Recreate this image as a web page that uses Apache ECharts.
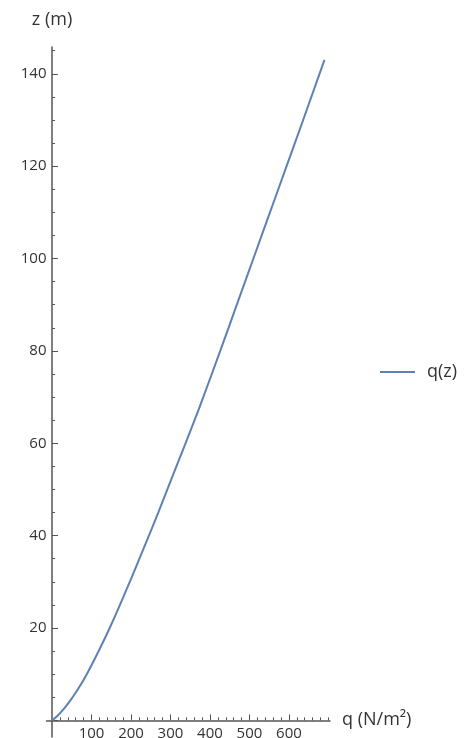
<!DOCTYPE html>
<html>
<head>
<meta charset="utf-8">
<script src="https://cdn.jsdelivr.net/npm/echarts@6/dist/echarts.min.js"></script>
<style>
  html, body { margin: 0; padding: 0; background: #fff; }
  #chart { width: 468px; height: 738px; }
</style>
</head>
<body>
<div id="chart"></div>
<script>
// Height above ground (m) and the matching wind pressure q (N/m²)
const zValues = [0, 1, 2.5, 5, 7.5, 10, 15, 20, 26, 30, 37, 45, 55, 65, 70, 80, 90, 100, 110, 120, 130, 143];
const qValues = [0, 14, 30, 52, 71, 88, 118, 146, 177, 197, 231, 269, 315, 361, 383, 426, 468, 510, 552, 594, 636, 690];

// Axis ticks and labels
const zMajorTicks = [0, 20, 40, 60, 80, 100, 120, 140];
const zTickLabels = [20, 40, 60, 80, 100, 120, 140];
const zMinorTicks = [5, 10, 15, 25, 30, 35, 45, 50, 55, 65, 70, 75, 85, 90, 95, 105, 110, 115, 125, 130, 135, 145];
const qMajorTicks = [100, 200, 300, 400, 500, 600];
const qTickLabels = [100, 200, 300, 400, 500, 600];
const qMinorTicks = [20, 40, 60, 80, 120, 140, 160, 180, 220, 240, 260, 280, 320, 340, 360, 380,
                     420, 440, 460, 480, 520, 540, 560, 580, 620, 640, 660, 680, 700];

const seriesName = 'q(z)';
const qAxisName = 'q (N/m²)';
const zAxisName = 'z (m)';

const axisColor = '#555';
const textColor = '#333';
const lineColor = '#5e81b5';
const fontFamily = '"Open Sans", "Liberation Sans", sans-serif';

const qRange = { min: -14, max: 704 };
const zRange = { min: -3.6, max: 145.8 };

const points = zValues.map((z, i) => [qValues[i], z]);

const chart = echarts.init(document.getElementById('chart'), null, { renderer: 'canvas' });

chart.setOption({
  backgroundColor: '#fff',
  animation: false,
  grid: { left: 46.5, right: 138, top: 47, bottom: 1, containLabel: false, outerBoundsMode: 'none' },
  legend: {
    data: [seriesName],
    orient: 'vertical',
    left: 380,
    top: 363,
    padding: 0,
    icon: 'rect',
    itemWidth: 35,
    itemHeight: 2,
    itemGap: 0,
    textStyle: { color: textColor, fontSize: 18, fontFamily: fontFamily, padding: [0, 0, 0, 7] }
  },
  xAxis: [
    {
      type: 'value',
      position: 'bottom',
      min: qRange.min,
      max: qRange.max,
      name: qAxisName,
      nameLocation: 'end',
      nameGap: 12,
      nameTextStyle: { color: textColor, fontSize: 18, fontFamily: fontFamily },
      axisLine: { show: true, onZero: true, onZeroAxisIndex: 0, lineStyle: { color: axisColor, width: 1.5 } },
      axisTick: { show: true, inside: true, length: 6, customValues: qMajorTicks, lineStyle: { color: axisColor, width: 1 } },
      axisLabel: { show: true, customValues: qTickLabels, margin: -11, color: textColor, fontSize: 15, fontFamily: fontFamily },
      splitLine: { show: false }
    },
    {
      type: 'value',
      position: 'bottom',
      min: qRange.min,
      max: qRange.max,
      axisLine: { show: false, onZero: true, onZeroAxisIndex: 0 },
      axisTick: { show: true, inside: true, length: 3, customValues: qMinorTicks, lineStyle: { color: axisColor, width: 1 } },
      axisLabel: { show: false },
      splitLine: { show: false }
    }
  ],
  yAxis: [
    {
      type: 'value',
      position: 'left',
      min: zRange.min,
      max: zRange.max,
      name: zAxisName,
      nameLocation: 'end',
      nameGap: 18,
      nameTextStyle: { color: textColor, fontSize: 18, fontFamily: fontFamily, align: 'center' },
      axisLine: { show: true, onZero: true, onZeroAxisIndex: 0, lineStyle: { color: axisColor, width: 1.5 } },
      axisTick: { show: true, inside: true, length: 6, customValues: zMajorTicks, lineStyle: { color: axisColor, width: 1 } },
      axisLabel: { show: true, customValues: zTickLabels, margin: 0, color: textColor, fontSize: 15, fontFamily: fontFamily },
      splitLine: { show: false }
    },
    {
      type: 'value',
      position: 'left',
      min: zRange.min,
      max: zRange.max,
      axisLine: { show: false, onZero: true, onZeroAxisIndex: 0 },
      axisTick: { show: true, inside: true, length: 3, customValues: zMinorTicks, lineStyle: { color: axisColor, width: 1 } },
      axisLabel: { show: false },
      splitLine: { show: false }
    }
  ],
  series: [
    {
      name: seriesName,
      type: 'line',
      xAxisIndex: 0,
      yAxisIndex: 0,
      data: points,
      smooth: true,
      symbol: 'none',
      showSymbol: false,
      lineStyle: { color: lineColor, width: 2 },
      itemStyle: { color: lineColor }
    }
  ]
});
</script>
</body>
</html>
